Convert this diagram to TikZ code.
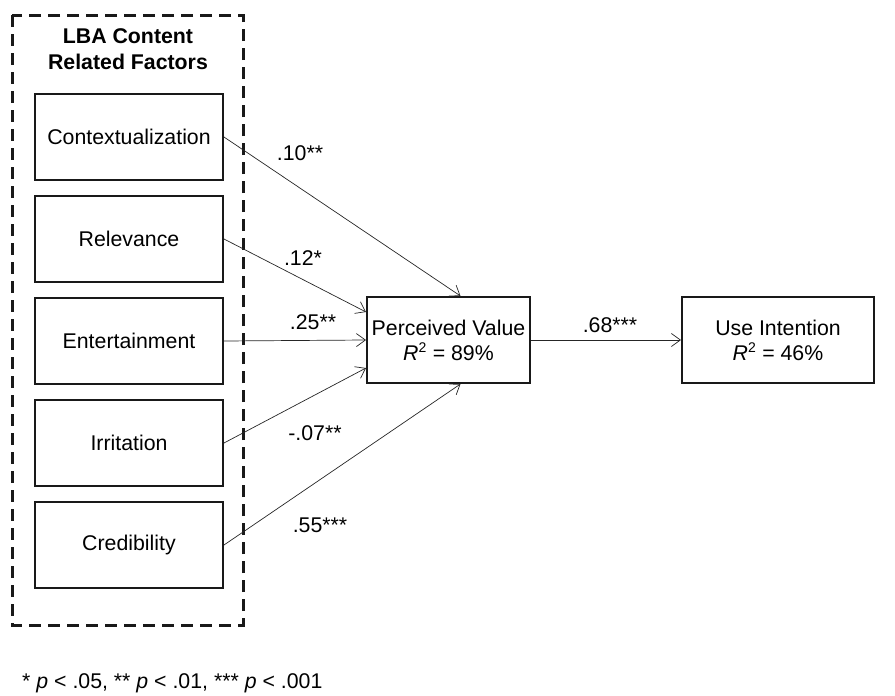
\documentclass[tikz,border=0pt]{standalone}
\usepackage{fontspec}
\setmainfont{Liberation Sans}
\usetikzlibrary{arrows.meta, positioning}
\tikzset{
  factor box/.style={
    rectangle, draw=black!90, line width=2pt, fill=white,
    minimum width=188pt, minimum height=86pt,
    inner sep=0pt, align=center, font=\fontsize{21.3}{25}\selectfont
  },
  outcome box/.style={
    factor box, minimum width=163pt
  },
  path arrow/.style={
    -{Straight Barb[length=9pt,width=13pt]}, line width=0.7pt, draw=black!85
  },
  coef label/.style={
    font=\fontsize{21.3}{25}\selectfont, inner sep=0pt
  },
  group frame/.style={
    draw=black!90, line width=3pt, dash pattern=on 12pt off 7pt
  }
}
\newcommand{\rsq}{\textit{R}\textsuperscript{\fontsize{14}{14}\selectfont 2}}

\begin{document}
\begin{tikzpicture}[x=1pt, y=-1pt]
  \useasboundingbox (0,0) rectangle (895,696);

  % content factors
  \draw [group frame] (12,15) rectangle (243,625);
  \node (title) [coef label, align=center, font=\fontsize{21.3}{26}\selectfont\bfseries] at (128,49) {LBA Content\\Related Factors};

  \node (ctx) [factor box] at (129,137) {Contextualization};
  \node (rel) [factor box, below=14pt of ctx] {Relevance};
  \node (ent) [factor box, below=14pt of rel] {Entertainment};
  \node (irr) [factor box, below=14pt of ent] {Irritation};
  \node (cred) [factor box, below=14pt of irr] {Credibility};

  % outcomes
  \node (pv) [outcome box] at (448.5,340) {Perceived Value\\\rsq{} = 89\%};
  \node (ui) [outcome box, minimum width=192pt, right=150pt of pv] {Use Intention\\\rsq{} = 46\%};

  \draw [path arrow] (ctx.east) -- ([xshift=12pt]pv.north);
  \draw [path arrow] (rel.east) -- ([yshift=28pt]pv.west);
  \draw [path arrow] (ent.east) -- (pv.west);
  \draw [path arrow] (irr.east) -- ([yshift=-28pt]pv.west);
  \draw [path arrow] (cred.east) -- ([xshift=12pt]pv.south);
  \draw [path arrow] (pv.east) -- (ui.west);

  % coefficients
  \node (b1) [coef label] at (300,153) {.10**};
  \node (b2) [coef label] at (303,258) {.12*};
  \node (b3) [coef label] at (313,322) {.25**};
  \node (b4) [coef label] at (315,433) {-.07**};
  \node (b5) [coef label] at (320,525) {.55***};
  \node (b6) [coef label] at (610,325) {.68***};

  \node (note) [coef label, anchor=west] at (22,683) {* \textit{p} < .05, ** \textit{p} < .01, *** \textit{p} < .001};
\end{tikzpicture}
\end{document}
